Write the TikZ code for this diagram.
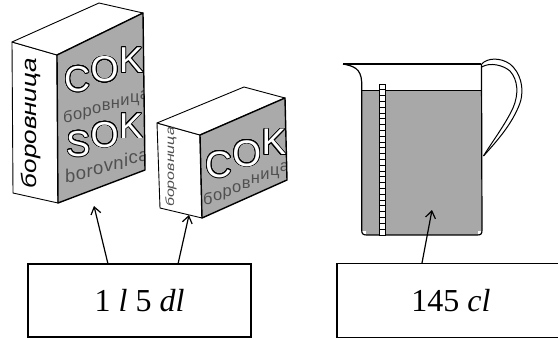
\documentclass[tikz,border=0pt]{standalone}
\usepackage{fontspec}
\setmainfont{Liberation Serif}
\newfontfamily\boxfont{Liberation Sans}
\usepackage{graphicx}
\usepackage{contour}
\contourlength{0.8pt}
\contournumber{24}
\usetikzlibrary{arrows.meta}
\definecolor{facegray}{RGB}{170,170,170}
\definecolor{liquid}{RGB}{168,168,168}
\definecolor{txtgray}{RGB}{80,80,80}
\newcommand\outl[1]{\textcolor{white}{\contour{black}{#1}}}
% #1 name, #2 x of first letter, #3 baseline y of first letter, #4 rise per letter (pt),
% #5 font, #6 wrapper, #7 letters
\newcommand\stagger[7]{%
  \foreach \ch [count=\i] in {#7} {%
    \ifnum\i=1\relax
      \node[anchor=base west, inner sep=0pt, font=#5] (#1-\i) at (#2,#3) {#6{\ch}};
    \else
      \pgfmathtruncatemacro\prv{\i-1}%
      \node[anchor=base west, inner sep=0pt, font=#5] (#1-\i) at ([yshift=#4pt]#1-\prv.base east) {#6{\ch}};
    \fi
  }%
}
\tikzset{
  edge/.style={line width=0.9pt, line join=round},
  frontedge/.style={line width=1.4pt, line join=round},
  labelbox/.style={draw, line width=1.4pt, inner sep=0pt, font=\fontsize{32}{38}\selectfont},
  arr/.style={line width=1.2pt, -{Straight Barb[length=7pt,width=10pt,line width=1.2pt]}},
  jugline/.style={line width=1.2pt, line join=round},
}
\begin{document}
\begin{tikzpicture}[x=1pt,y=-1pt]
\useasboundingbox (0,0) rectangle (558,340);
\clip (0,0) rectangle (558,340);

% ---------- big box ----------
\filldraw[fill=white, edge] (12,42) -- (57,55) -- (58,203) -- (13,193) -- cycle;
\filldraw[fill=white, edge] (12,42) -- (99,3) -- (143,13) -- (57,55) -- cycle;
\fill[facegray] (57,55) -- (143,13) -- (145,170) -- (58,203) -- cycle;
\begin{scope}
  \clip (57,55) -- (143,13) -- (145,170) -- (58,203) -- cycle;
  \stagger{bigCOK}{64}{91.3}{9.4}{\boxfont\fontsize{36}{36}\selectfont}{\outl}{C,O,K}
  \stagger{bigcyr}{63}{122.5}{2.9}{\boxfont\fontsize{16.5}{17}\selectfont}{\textcolor{txtgray}}{б,о,р,о,в,н,и,ц,а}
  \stagger{bigSOK}{66}{156.2}{9.1}{\boxfont\fontsize{36}{36}\selectfont}{\outl}{S,O,K}
  \stagger{biglat}{65}{182.6}{2.7}{\boxfont\fontsize{18.5}{19}\selectfont}{\textcolor{txtgray}}{b,o,r,o,v,n,i,c,a}
\end{scope}
\draw[frontedge] (57,55) -- (143,13) -- (145,170) -- (58,203) -- cycle;
\node[anchor=base, inner sep=0pt, rotate=90, font=\boxfont\itshape\fontsize{21}{21}\selectfont] (bigside) at (36.5,123) {\scalebox{1.24}[1]{боровница}};

% ---------- small box ----------
\filldraw[fill=white, edge] (157,123) -- (200,135) -- (202,218) -- (160,208) -- cycle;
\filldraw[fill=white, edge] (157,123) -- (244,87) -- (285,98) -- (200,135) -- cycle;
\fill[facegray] (200,135) -- (285,98) -- (287,180) -- (202,218) -- cycle;
\begin{scope}
  \clip (200,135) -- (285,98) -- (287,180) -- (202,218) -- cycle;
  \stagger{smCOK}{205}{177.2}{11.2}{\boxfont\fontsize{37}{37}\selectfont}{\outl}{C,O,K}
  \stagger{smcyr}{203}{204.4}{4.1}{\boxfont\fontsize{16.5}{17}\selectfont}{\textcolor{txtgray}}{б,о,р,о,в,н,и,ц,а}
\end{scope}
\draw[frontedge] (200,135) -- (285,98) -- (287,180) -- (202,218) -- cycle;
\node[anchor=base, inner sep=0pt, rotate=90, text=txtgray, font=\boxfont\itshape\fontsize{12}{12}\selectfont] (smside) at (174,167) {\scalebox{1.33}[1]{боровница}};

% ---------- jug ----------
\fill[liquid] (362,90) rectangle (482,231);
\fill[liquid] (366,229) rectangle (478,235);
\draw[jugline] (343,64) -- (481,64);
\draw[jugline] (343,64) .. controls (353,66) and (361,68) .. (361.7,82)
  -- (361.7,230) .. controls (361.7,234) and (363,235) .. (367,235)
  -- (477,235) .. controls (481,235) and (482,234) .. (482,230) -- (481.5,64);
\draw[line width=1pt] (362,90) -- (481.5,90);
% scale
\filldraw[fill=white, line width=0.8pt] (379.3,84) rectangle (385.7,235);
\foreach \k in {0,...,25} {
  \draw[line width=0.8pt] (379.3,{84+5.8*\k}) -- (385.7,{84+5.8*\k});
}
% handle
\draw[line width=1pt] (481.7,64) .. controls (487,58) and (500,57) .. (510,64)
  .. controls (520,72) and (525,88) .. (520,103)
  .. controls (512,125) and (495,143) .. (483.5,156);
\draw[line width=1pt] (481.7,67) .. controls (490,62) and (503,65) .. (510,71)
  .. controls (518,80) and (519,94) .. (513,108)
  .. controls (505,125) and (492,142) .. (483.5,156);

% ---------- labels ----------
\node[labelbox, minimum width=223pt, minimum height=73pt] (L1) at (139.6,300.5) {1 \textit{l} 5 \textit{dl}};
\node[labelbox, minimum width=228pt, minimum height=74pt] (L2) at (451,300.3) {145 \textit{cl}};

% ---------- arrows ----------
\coordinate (a1s) at (108,264);
\coordinate (a1e) at (94,206);
\coordinate (a2s) at (178,264);
\coordinate (a2e) at (189,215);
\coordinate (a3s) at (422,263);
\coordinate (a3e) at (432,210);
\draw[arr] (a1s) -- (a1e);
\draw[arr] (a2s) -- (a2e);
\draw[arr] (a3s) -- (a3e);
\end{tikzpicture}
\end{document}
